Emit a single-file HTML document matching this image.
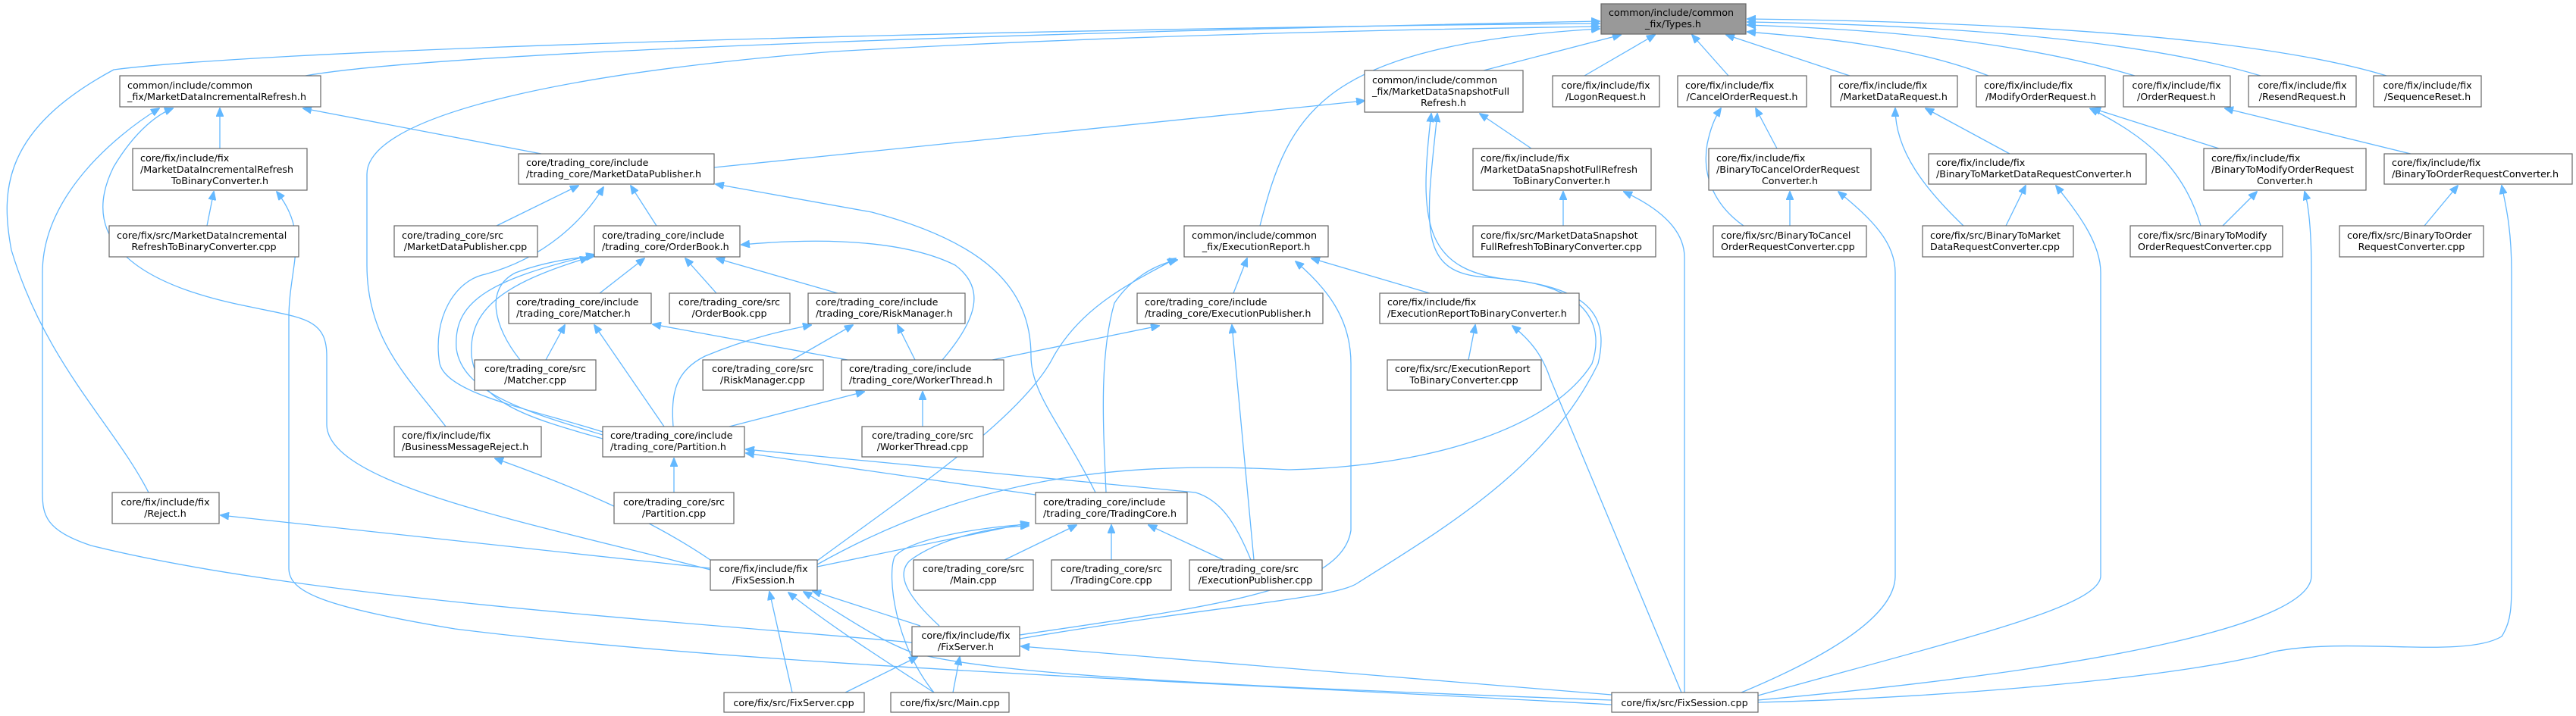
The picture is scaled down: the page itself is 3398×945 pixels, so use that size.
<!DOCTYPE html>
<html><head><meta charset="utf-8"><style>
html,body{margin:0;padding:0;background:#fff;}
svg{display:block;}
text{font-family:"DejaVu Sans","Liberation Sans",sans-serif;font-size:12.7px;fill:#000;}
.b{fill:#fff;stroke:#666;stroke-width:1.2;}
.e{fill:none;stroke:#63b8ff;stroke-width:1.3;marker-end:url(#a);}
</style></head><body>
<svg width="3398" height="945" viewBox="0 0 3398 945" xmlns="http://www.w3.org/2000/svg">
<defs><marker id="a" viewBox="0 0 12 10" refX="11" refY="5" markerWidth="12" markerHeight="10" markerUnits="userSpaceOnUse" orient="auto"><path d="M0,0 L12,5 L0,10 z" fill="#63b8ff" stroke="#63b8ff"/></marker></defs>
<g>
<!-- to Types.h -->
<path class="e" d="M403,100 C 600,65 1500,40 2110,28"/>
<path class="e" d="M196,650 C 150,560 60,480 15,330 C 0,250 5,170 150,92 C 400,60 1500,36 2110,31"/>
<path class="e" d="M588,563 C 540,500 484,450 484,350 L484,230 C 484,160 700,100 1100,68 C 1500,45 1900,38 2110,35"/>
<path class="e" d="M1662,298 C 1700,150 1740,60 2110,38"/>
<path class="e" d="M1957,93 L2138,46"/>
<path class="e" d="M2090,100 L2183,46"/>
<path class="e" d="M2280,100 L2232,46"/>
<path class="e" d="M2440,100 L2277,46"/>
<path class="e" d="M2623,100 C 2520,60 2400,50 2305,42"/>
<path class="e" d="M2816,100 C 2650,50 2450,38 2305,33"/>
<path class="e" d="M2982,100 C 2800,45 2500,32 2305,29"/>
<path class="e" d="M3148,100 C 2950,40 2550,28 2305,25"/>
<!-- MDIR -->
<path class="e" d="M290,196 L290,143"/>
<path class="e" d="M273,298 L282,253"/>
<path class="e" d="M714,203 L400,143"/>
<path class="e" d="M1203,848 C 900,820 400,790 120,720 C 60,700 56,680 56,650 L56,360 C 56,260 150,180 210,143"/>
<path class="e" d="M937,752 C 700,690 431,640 431,560 L431,470 C 431,420 400,420 330,405 C 150,370 110,300 150,220 C 180,170 210,150 228,143"/>
<path class="e" d="M2126,930 C 1600,900 1000,880 600,830 C 420,800 381,780 381,750 L381,420 C 381,350 410,310 365,253"/>
<!-- MDP -->
<path class="e" d="M655,298 L763,245"/>
<path class="e" d="M866,298 L832,245"/>
<path class="e" d="M795,570 C 700,540 590,520 580,480 C 570,420 600,370 640,362 C 720,340 770,290 796,247"/>
<path class="e" d="M1445,650 C 1400,560 1360,520 1360,470 C 1360,380 1300,320 1150,280 L944,243"/>
<path class="e" d="M942,221 L1800,133"/>
<!-- MDSFR -->
<path class="e" d="M2020,196 L1952,150"/>
<path class="e" d="M2062,298 L2062,253"/>
<path class="e" d="M2222,914 L2222,340 C 2222,310 2200,280 2142,253"/>
<path class="e" d="M1078,745 C 1300,620 1500,610 1700,620 C 1900,615 2050,560 2100,480 C 2120,420 2080,380 2000,370 C 1880,360 1870,300 1888,150"/>
<path class="e" d="M1345,843 C 1600,800 1760,790 1790,770 C 1900,700 2040,620 2108,480 C 2125,410 2090,375 1960,366 C 1870,360 1880,300 1896,150"/>
<!-- cancel -->
<path class="e" d="M2344,196 L2316,143"/>
<path class="e" d="M2361,298 L2361,253"/>
<path class="e" d="M2300,298 C 2260,270 2245,230 2252,190 C 2256,170 2262,155 2270,143"/>
<path class="e" d="M2297,914 C 2450,850 2500,800 2500,760 L2500,360 C 2500,320 2470,290 2425,253"/>
<!-- MDReq -->
<path class="e" d="M2651,203 L2540,143"/>
<path class="e" d="M2590,298 C 2540,250 2500,200 2500,143"/>
<path class="e" d="M2646,298 L2672,245"/>
<path class="e" d="M2319,918 C 2600,840 2771,800 2771,760 L2771,360 C 2771,320 2740,280 2712,245"/>
<!-- Modify -->
<path class="e" d="M2927,196 L2760,143"/>
<path class="e" d="M2903,298 C 2880,220 2830,180 2757,143"/>
<path class="e" d="M2932,298 L2977,253"/>
<path class="e" d="M2319,924 C 2800,880 3049,820 3049,760 L3049,360 C 3049,300 3045,270 3040,253"/>
<!-- OrderReq -->
<path class="e" d="M3180,203 L2935,143"/>
<path class="e" d="M3198,298 L3242,245"/>
<path class="e" d="M2319,927 C 2600,920 2900,890 3000,860 C 3100,840 3250,870 3300,840 C 3313,820 3313,800 3313,760 L3313,360 C 3313,300 3305,270 3300,245"/>
<!-- OrderBook -->
<path class="e" d="M791,387 L850,341"/>
<path class="e" d="M945,387 L904,341"/>
<path class="e" d="M1105,387 L945,341"/>
<path class="e" d="M1243,475 C 1290,420 1300,380 1260,350 C 1200,320 1100,312 978,323"/>
<path class="e" d="M686,475 C 650,430 640,380 680,360 C 720,345 760,340 784,338"/>
<path class="e" d="M795,574 C 700,545 610,520 602,460 C 598,400 640,370 784,336"/>
<path class="e" d="M795,579 C 690,550 630,530 622,470 C 618,410 660,375 776,340"/>
<!-- Matcher / Risk / Worker -->
<path class="e" d="M720,475 L745,429"/>
<path class="e" d="M876,563 L784,429"/>
<path class="e" d="M1118,475 L861,428"/>
<path class="e" d="M1045,475 L1125,429"/>
<path class="e" d="M1207,475 L1184,429"/>
<path class="e" d="M888,563 C 885,520 890,490 930,470 C 990,445 1040,435 1070,429"/>
<path class="e" d="M1217,563 L1217,517"/>
<path class="e" d="M962,563 L1140,517"/>
<path class="e" d="M1309,475 L1529,430"/>
<!-- Partition -->
<path class="e" d="M889,650 L889,605"/>
<path class="e" d="M1366,653 L984,598"/>
<path class="e" d="M1650,739 C 1630,690 1610,660 1577,650 L984,593"/>
<!-- BMR / Reject -->
<path class="e" d="M937,739 C 850,680 750,640 653,605"/>
<path class="e" d="M937,750 L291,680"/>
<!-- ExecReport -->
<path class="e" d="M1627,387 L1645,341"/>
<path class="e" d="M1886,387 L1730,341"/>
<path class="e" d="M1937,475 L1946,429"/>
<path class="e" d="M2218,914 L2045,500 C 2035,470 2020,450 1995,430"/>
<path class="e" d="M1078,740 C 1200,650 1350,550 1390,470 C 1430,400 1500,370 1551,341"/>
<path class="e" d="M1459,650 C 1455,560 1450,470 1470,400 C 1490,370 1520,350 1553,343"/>
<path class="e" d="M1345,838 C 1600,800 1770,780 1782,700 L1782,480 C 1782,420 1750,380 1709,345"/>
<path class="e" d="M1654,739 L1625,429"/>
<!-- TradingCore -->
<path class="e" d="M1325,739 L1420,693"/>
<path class="e" d="M1466,739 L1466,693"/>
<path class="e" d="M1614,739 L1515,693"/>
<path class="e" d="M1078,748 L1357,690"/>
<path class="e" d="M1232,914 C 1180,850 1170,760 1180,735 C 1200,710 1300,695 1357,692"/>
<path class="e" d="M1239,826 C 1200,790 1180,760 1200,740 C 1240,710 1310,695 1357,694"/>
<!-- FixSession / FixServer -->
<path class="e" d="M1045,914 L1015,781"/>
<path class="e" d="M1214,826 L1072,780"/>
<path class="e" d="M1232,914 C 1180,880 1100,830 1040,782"/>
<path class="e" d="M2126,924 C 1600,905 1300,890 1200,860 C 1150,840 1110,810 1060,781"/>
<path class="e" d="M2126,917 L1347,853"/>
<path class="e" d="M1115,914 L1210,867"/>
<path class="e" d="M1257,914 L1266,867"/>
</g>
<g>
<!-- nodes -->
<rect x="2112" y="5" width="191" height="40" fill="#999" stroke="#666" stroke-width="1.2"/>
<text x="2122" y="21">common/include/common</text><text x="2207" y="36" text-anchor="middle">_fix/Types.h</text>

<rect class="b" x="158" y="100" width="265" height="41"/>
<text x="168" y="117">common/include/common</text><text x="168" y="132">_fix/MarketDataIncrementalRefresh.h</text>

<rect class="b" x="1800" y="93" width="209" height="55"/>
<text x="1810" y="110">common/include/common</text><text x="1810" y="125">_fix/MarketDataSnapshotFull</text><text x="1904" y="140" text-anchor="middle">Refresh.h</text>

<rect class="b" x="2048" y="100" width="141" height="41"/>
<text x="2118" y="117" text-anchor="middle">core/fix/include/fix</text><text x="2118" y="132" text-anchor="middle">/LogonRequest.h</text>
<rect class="b" x="2213" y="100" width="170" height="41"/>
<text x="2223" y="117">core/fix/include/fix</text><text x="2298" y="132" text-anchor="middle">/CancelOrderRequest.h</text>
<rect class="b" x="2415" y="100" width="167" height="41"/>
<text x="2425" y="117">core/fix/include/fix</text><text x="2498" y="132" text-anchor="middle">/MarketDataRequest.h</text>
<rect class="b" x="2607" y="100" width="170" height="41"/>
<text x="2617" y="117">core/fix/include/fix</text><text x="2692" y="132" text-anchor="middle">/ModifyOrderRequest.h</text>
<rect class="b" x="2801" y="100" width="141" height="41"/>
<text x="2871" y="117" text-anchor="middle">core/fix/include/fix</text><text x="2871" y="132" text-anchor="middle">/OrderRequest.h</text>
<rect class="b" x="2966" y="100" width="142" height="41"/>
<text x="3037" y="117" text-anchor="middle">core/fix/include/fix</text><text x="3037" y="132" text-anchor="middle">/ResendRequest.h</text>
<rect class="b" x="3131" y="100" width="142" height="41"/>
<text x="3202" y="117" text-anchor="middle">core/fix/include/fix</text><text x="3202" y="132" text-anchor="middle">/SequenceReset.h</text>

<rect class="b" x="175" y="196" width="230" height="55"/>
<text x="185" y="213">core/fix/include/fix</text><text x="185" y="228">/MarketDataIncrementalRefresh</text><text x="290" y="243" text-anchor="middle">ToBinaryConverter.h</text>
<rect class="b" x="684" y="203" width="258" height="40"/>
<text x="694" y="219">core/trading_core/include</text><text x="694" y="234">/trading_core/MarketDataPublisher.h</text>
<rect class="b" x="1943" y="196" width="235" height="55"/>
<text x="1953" y="213">core/fix/include/fix</text><text x="1953" y="228">/MarketDataSnapshotFullRefresh</text><text x="2060" y="243" text-anchor="middle">ToBinaryConverter.h</text>
<rect class="b" x="2254" y="196" width="214" height="55"/>
<text x="2264" y="213">core/fix/include/fix</text><text x="2264" y="228">/BinaryToCancelOrderRequest</text><text x="2361" y="243" text-anchor="middle">Converter.h</text>
<rect class="b" x="2544" y="203" width="287" height="40"/>
<text x="2554" y="219">core/fix/include/fix</text><text x="2554" y="234">/BinaryToMarketDataRequestConverter.h</text>
<rect class="b" x="2907" y="196" width="214" height="55"/>
<text x="2917" y="213">core/fix/include/fix</text><text x="2917" y="228">/BinaryToModifyOrderRequest</text><text x="3014" y="243" text-anchor="middle">Converter.h</text>
<rect class="b" x="3145" y="203" width="248" height="40"/>
<text x="3155" y="219">core/fix/include/fix</text><text x="3155" y="234">/BinaryToOrderRequestConverter.h</text>

<rect class="b" x="144" y="298" width="250" height="41"/>
<text x="154" y="315">core/fix/src/MarketDataIncremental</text><text x="269" y="330" text-anchor="middle">RefreshToBinaryConverter.cpp</text>
<rect class="b" x="520" y="298" width="189" height="41"/>
<text x="530" y="315">core/trading_core/src</text><text x="614" y="330" text-anchor="middle">/MarketDataPublisher.cpp</text>
<rect class="b" x="784" y="298" width="192" height="41"/>
<text x="794" y="315">core/trading_core/include</text><text x="794" y="330">/trading_core/OrderBook.h</text>
<rect class="b" x="1562" y="298" width="190" height="41"/>
<text x="1572" y="315">common/include/common</text><text x="1657" y="330" text-anchor="middle">_fix/ExecutionReport.h</text>
<rect class="b" x="1943" y="298" width="241" height="41"/>
<text x="1953" y="315">core/fix/src/MarketDataSnapshot</text><text x="1953" y="330">FullRefreshToBinaryConverter.cpp</text>
<rect class="b" x="2260" y="298" width="202" height="41"/>
<text x="2270" y="315">core/fix/src/BinaryToCancel</text><text x="2270" y="330">OrderRequestConverter.cpp</text>
<rect class="b" x="2536" y="298" width="199" height="41"/>
<text x="2546" y="315">core/fix/src/BinaryToMarket</text><text x="2546" y="330">DataRequestConverter.cpp</text>
<rect class="b" x="2810" y="298" width="201" height="41"/>
<text x="2820" y="315">core/fix/src/BinaryToModify</text><text x="2820" y="330">OrderRequestConverter.cpp</text>
<rect class="b" x="3086" y="298" width="190" height="41"/>
<text x="3096" y="315">core/fix/src/BinaryToOrder</text><text x="3181" y="330" text-anchor="middle">RequestConverter.cpp</text>

<rect class="b" x="671" y="387" width="188" height="40"/>
<text x="681" y="403">core/trading_core/include</text><text x="681" y="418">/trading_core/Matcher.h</text>
<rect class="b" x="883" y="387" width="159" height="40"/>
<text x="962" y="403" text-anchor="middle">core/trading_core/src</text><text x="962" y="418" text-anchor="middle">/OrderBook.cpp</text>
<rect class="b" x="1066" y="387" width="207" height="40"/>
<text x="1076" y="403">core/trading_core/include</text><text x="1076" y="418">/trading_core/RiskManager.h</text>
<rect class="b" x="1500" y="387" width="245" height="40"/>
<text x="1510" y="403">core/trading_core/include</text><text x="1510" y="418">/trading_core/ExecutionPublisher.h</text>
<rect class="b" x="1820" y="387" width="263" height="40"/>
<text x="1830" y="403">core/fix/include/fix</text><text x="1830" y="418">/ExecutionReportToBinaryConverter.h</text>

<rect class="b" x="626" y="475" width="160" height="40"/>
<text x="706" y="491" text-anchor="middle">core/trading_core/src</text><text x="706" y="506" text-anchor="middle">/Matcher.cpp</text>
<rect class="b" x="927" y="475" width="159" height="40"/>
<text x="1006" y="491" text-anchor="middle">core/trading_core/src</text><text x="1006" y="506" text-anchor="middle">/RiskManager.cpp</text>
<rect class="b" x="1110" y="475" width="214" height="40"/>
<text x="1120" y="491">core/trading_core/include</text><text x="1120" y="506">/trading_core/WorkerThread.h</text>
<rect class="b" x="1830" y="475" width="203" height="40"/>
<text x="1840" y="491">core/fix/src/ExecutionReport</text><text x="1931" y="506" text-anchor="middle">ToBinaryConverter.cpp</text>

<rect class="b" x="520" y="563" width="194" height="40"/>
<text x="530" y="579">core/fix/include/fix</text><text x="530" y="594">/BusinessMessageReject.h</text>
<rect class="b" x="795" y="563" width="187" height="40"/>
<text x="805" y="579">core/trading_core/include</text><text x="805" y="594">/trading_core/Partition.h</text>
<rect class="b" x="1137" y="563" width="160" height="40"/>
<text x="1217" y="579" text-anchor="middle">core/trading_core/src</text><text x="1217" y="594" text-anchor="middle">/WorkerThread.cpp</text>

<rect class="b" x="148" y="650" width="141" height="41"/>
<text x="218" y="667" text-anchor="middle">core/fix/include/fix</text><text x="218" y="682" text-anchor="middle">/Reject.h</text>
<rect class="b" x="810" y="650" width="158" height="41"/>
<text x="889" y="667" text-anchor="middle">core/trading_core/src</text><text x="889" y="682" text-anchor="middle">/Partition.cpp</text>
<rect class="b" x="1366" y="650" width="200" height="41"/>
<text x="1376" y="667">core/trading_core/include</text><text x="1376" y="682">/trading_core/TradingCore.h</text>

<rect class="b" x="937" y="739" width="141" height="40"/>
<text x="1007" y="755" text-anchor="middle">core/fix/include/fix</text><text x="1007" y="770" text-anchor="middle">/FixSession.h</text>
<rect class="b" x="1205" y="739" width="158" height="40"/>
<text x="1284" y="755" text-anchor="middle">core/trading_core/src</text><text x="1284" y="770" text-anchor="middle">/Main.cpp</text>
<rect class="b" x="1387" y="739" width="158" height="40"/>
<text x="1466" y="755" text-anchor="middle">core/trading_core/src</text><text x="1466" y="770" text-anchor="middle">/TradingCore.cpp</text>
<rect class="b" x="1569" y="739" width="175" height="40"/>
<text x="1579" y="755">core/trading_core/src</text><text x="1656" y="770" text-anchor="middle">/ExecutionPublisher.cpp</text>

<rect class="b" x="1203" y="827" width="142" height="39"/>
<text x="1274" y="843" text-anchor="middle">core/fix/include/fix</text><text x="1274" y="858" text-anchor="middle">/FixServer.h</text>

<rect class="b" x="955" y="914" width="185" height="26"/>
<text x="1047" y="932" text-anchor="middle">core/fix/src/FixServer.cpp</text>
<rect class="b" x="1175" y="914" width="156" height="26"/>
<text x="1253" y="932" text-anchor="middle">core/fix/src/Main.cpp</text>
<rect class="b" x="2126" y="914" width="193" height="26"/>
<text x="2222" y="932" text-anchor="middle">core/fix/src/FixSession.cpp</text>
</g>
</svg>
</body></html>
